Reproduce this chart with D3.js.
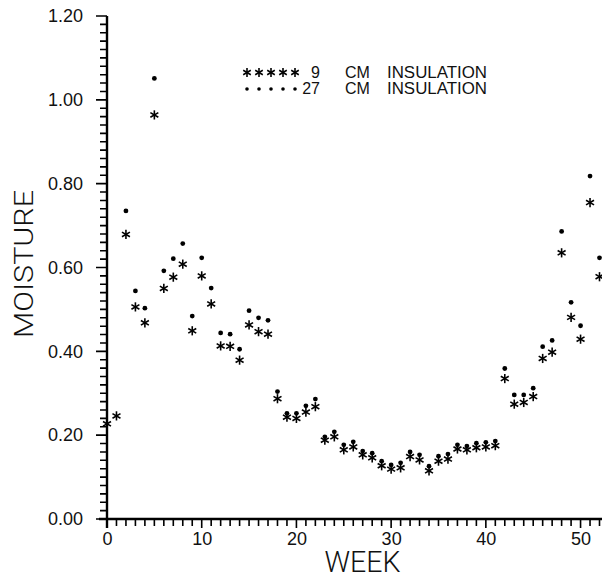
<!DOCTYPE html>
<html lang="en">
  <head>
    <meta charset="UTF-8" />
    <title>Moisture by week</title>
    <script src="https://d3js.org/d3.v7.min.js"></script>
    <style>
      body {
        margin: 0;
        background-color: #fff;
      }
      svg text {
        font-family: "Liberation Sans", Arial, sans-serif;
        fill: #111;
      }
      .title-label {
        font-family: Roboto, "Liberation Sans", sans-serif;
        font-weight: 300;
      }
    </style>
  </head>
  <body>
    <svg id="chart" width="602" height="578"></svg>
    <script>
      // week number of each reading
      const weeks = [
        0, 1, 2, 3, 4, 5, 6, 7, 8, 9, 10, 11, 12, 13, 14, 15, 16, 17, 18, 19,
        20, 21, 22, 23, 24, 25, 26, 27, 28, 29, 30, 31, 32, 33, 34, 35, 36, 37,
        38, 39, 40, 41, 42, 43, 44, 45, 46, 47, 48, 49, 50, 51, 52,
      ];
      // 9 cm insulation (asterisks)
      const insul9 = [
        0.227, 0.246, 0.679, 0.506, 0.468, 0.964, 0.55, 0.577, 0.608, 0.449,
        0.58, 0.513, 0.413, 0.412, 0.379, 0.463, 0.447, 0.441, 0.287, 0.243,
        0.24, 0.255, 0.268, 0.188, 0.196, 0.165, 0.172, 0.153, 0.146, 0.127,
        0.119, 0.122, 0.149, 0.141, 0.115, 0.138, 0.143, 0.167, 0.165, 0.17,
        0.172, 0.175, 0.335, 0.274, 0.278, 0.292, 0.383, 0.398, 0.635, 0.481,
        0.429, 0.755, 0.578,
      ];
      // 27 cm insulation (dots)
      const insul27 = [
        null, null, 0.735, 0.544, 0.503, 1.051, 0.592, 0.621, 0.657, 0.484,
        0.623, 0.551, 0.444, 0.441, 0.405, 0.497, 0.48, 0.474, 0.304, 0.252,
        0.252, 0.27, 0.286, 0.196, 0.208, 0.177, 0.184, 0.162, 0.157, 0.138,
        0.129, 0.134, 0.16, 0.153, 0.126, 0.15, 0.155, 0.177, 0.174, 0.181,
        0.183, 0.186, 0.359, 0.296, 0.296, 0.312, 0.411, 0.426, 0.686, 0.517,
        0.461, 0.818, 0.623,
      ];
      const xTicks = [0, 10, 20, 30, 40, 50];
      const yTicks = [0, 0.2, 0.4, 0.6, 0.8, 1.0, 1.2];
      const yMinor = d3.range(0, 1.2001, 0.02);
      const legendLabels = ["9", "27"];

      const svg = d3.select("#chart");
      const x = d3.scaleLinear().domain([0, 52]).range([107, 599.5]);
      const y = d3.scaleLinear().domain([0, 1.2]).range([519, 16]);
      const ink = "#000";

      // asterisk: three strokes through the centre
      function asterisk(g, cx, cy, r) {
        [90, 30, 150].forEach((a) => {
          const rad = (a * Math.PI) / 180;
          g.append("line")
            .attr("x1", cx - r * Math.cos(rad))
            .attr("y1", cy - r * Math.sin(rad))
            .attr("x2", cx + r * Math.cos(rad))
            .attr("y2", cy + r * Math.sin(rad))
            .attr("stroke", ink)
            .attr("stroke-width", 1.6);
        });
      }

      const axes = svg.append("g");

      // tick labels from d3 axes
      axes.append("g")
        .attr("transform", `translate(${x(0)},0)`)
        .call(
          d3.axisLeft(y)
            .tickValues(yTicks)
            .tickSize(0)
            .tickPadding(24)
            .tickFormat(d3.format(".2f"))
        );
      axes.append("g")
        .attr("transform", `translate(0,${y(0)})`)
        .call(
          d3.axisBottom(x)
            .tickValues(xTicks)
            .tickSize(0)
            .tickPadding(13)
        );
      axes.selectAll(".domain, .tick line").remove();
      axes.selectAll("text").attr("font-size", 18).attr("fill", "#111");

      // ticks drawn as short paths
      const yTickPath = yMinor
        .map((d) => {
          const len = yTicks.some((t) => Math.abs(t - d) < 1e-6) ? 11 : 7;
          return `M${x(0) - len},${y(d)}H${x(0)}`;
        })
        .join("");
      const xTickPath = weeks
        .map((d) => `M${x(d)},${y(0)}v${xTicks.includes(d) ? 9 : 7}`)
        .join("");
      axes.append("path")
        .attr("d", yTickPath + xTickPath)
        .attr("fill", "none")
        .attr("stroke", ink)
        .attr("stroke-width", 1.6);

      // axis lines
      axes.append("path")
        .attr("d", `M${x(0)},${y(1.2)}V${y(0) + 9}M${x(0) - 8},${y(0)}H602`)
        .attr("fill", "none")
        .attr("stroke", ink)
        .attr("stroke-width", 2.4);

      // axis titles
      svg.append("text")
        .attr("class", "title-label")
        .attr("transform", "translate(33,264) rotate(-90)")
        .attr("text-anchor", "middle")
        .attr("font-size", 26)
        .attr("textLength", 148)
        .attr("lengthAdjust", "spacingAndGlyphs")
        .text("MOISTURE");
      svg.append("text")
        .attr("class", "title-label")
        .attr("x", 362.5)
        .attr("y", 572)
        .attr("text-anchor", "middle")
        .attr("font-size", 29)
        .attr("textLength", 76)
        .attr("lengthAdjust", "spacingAndGlyphs")
        .text("WEEK");

      // data: 27 cm dots
      const pts27 = weeks
        .map((w, i) => ({ w, v: insul27[i] }))
        .filter((d) => d.v != null);
      svg.append("g")
        .selectAll("circle")
        .data(pts27)
        .join("circle")
        .attr("cx", (d) => x(d.w))
        .attr("cy", (d) => y(d.v))
        .attr("r", 2.4)
        .attr("fill", ink);

      // data: 9 cm asterisks
      const g9 = svg.append("g");
      weeks.forEach((w, i) => asterisk(g9, x(w), y(insul9[i]), 4.6));

      // legend
      const lx = d3.scaleLinear().domain([0, 4]).range([247, 295]);
      const legend = svg.append("g");
      [0, 1, 2, 3, 4].forEach((k) => {
        asterisk(legend, lx(k), 72.5, 4.4);
        legend.append("circle")
          .attr("cx", lx(k))
          .attr("cy", 89)
          .attr("r", 1.8)
          .attr("fill", ink);
      });
      legendLabels.forEach((lab, i) => {
        const by = 78 + i * 15.5;
        legend.append("text")
          .attr("x", 320)
          .attr("y", by)
          .attr("text-anchor", "end")
          .attr("font-size", 16)
          .text(lab);
        legend.append("text").attr("x", 345).attr("y", by).attr("font-size", 16).text("CM");
        legend.append("text").attr("x", 387).attr("y", by).attr("font-size", 16)
          .attr("textLength", 100).attr("lengthAdjust", "spacingAndGlyphs")
          .text("INSULATION");
      });
    </script>
  </body>
</html>
